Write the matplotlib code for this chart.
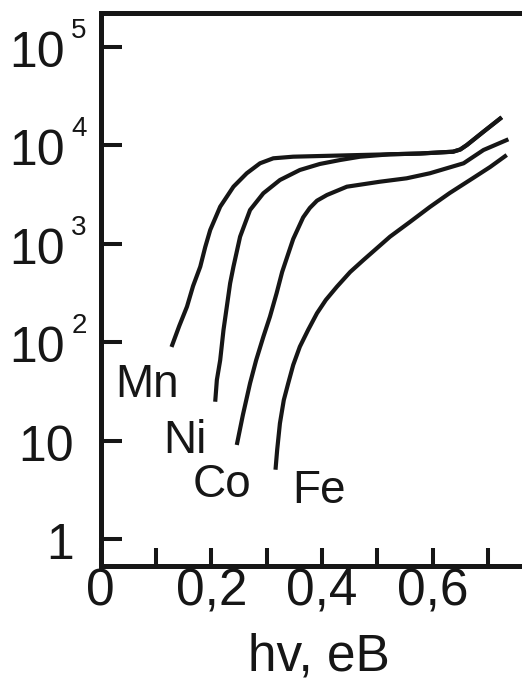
import matplotlib
matplotlib.use("Agg")
import matplotlib.pyplot as plt
import matplotlib.transforms as mtransforms

plt.rcParams['font.family'] = ['Liberation Sans', 'DejaVu Sans']

# curves: photon energy (eV) vs absorption (log)
mn_x = [0.128, 0.142, 0.156, 0.167, 0.180, 0.189, 0.198, 0.216, 0.240, 0.264, 0.288, 0.312, 0.348,
        0.469, 0.523, 0.577, 0.637, 0.650, 0.662, 0.692, 0.725]
mn_y = [90, 147, 231, 374, 588, 931, 1386, 2389, 3813, 5217, 6590, 7405, 7689,
        7998, 8132, 8279, 8640, 9097, 10106, 13792, 19311]

ni_x = [0.207, 0.210, 0.216, 0.222, 0.228, 0.234, 0.240, 0.252, 0.270, 0.294, 0.324, 0.360, 0.396,
        0.433, 0.469, 0.523, 0.577, 0.637, 0.650, 0.662, 0.692, 0.725]
ni_y = [25, 41.6, 66, 134, 231, 399, 588, 1185, 2211, 3268, 4458, 5633, 6482,
        7118, 7689, 8132, 8279, 8640, 9097, 10106, 13792, 19311]

co_x = [0.246, 0.257, 0.270, 0.281, 0.294, 0.306, 0.318, 0.328, 0.339, 0.348, 0.366, 0.378,
        0.391, 0.409, 0.445, 0.505, 0.553, 0.595, 0.656, 0.692, 0.737]
co_y = [9.1, 18.3, 38.5, 66, 114, 183, 316, 519, 794, 1122, 1862, 2317,
        2750, 3141, 3813, 4285, 4639, 5217, 6590, 8990, 11545]

fe_x = [0.316, 0.319, 0.324, 0.331, 0.339, 0.348, 0.360, 0.375, 0.391, 0.407, 0.427, 0.451,
        0.475, 0.523, 0.559, 0.595, 0.631, 0.674, 0.704, 0.734]
fe_y = [5.1, 8.1, 15.1, 26, 38.5, 59, 90.5, 134, 198, 270, 368, 519,
        687, 1185, 1671, 2372, 3290, 4700, 6043, 7998]

y_ticks = [1, 10, 100, 1000, 10000, 100000]
y_base = ['1', '10', '10', '10', '10', '10']
y_exp = ['', '', '2', '3', '4', '5']

x_ticks = [0, 0.1, 0.2, 0.3, 0.4, 0.5, 0.6, 0.7]
x_labels = ['0', '', '0,2', '', '0,4', '', '0,6', '']

ink = '#161616'

fig = plt.figure(figsize=(5.22, 6.85), dpi=100)
ax = fig.add_axes([0.1929, 0.1737, 1 - 0.1929, 0.8067])

for xs, ys in [(mn_x, mn_y), (ni_x, ni_y), (co_x, co_y), (fe_x, fe_y)]:
    ax.plot(xs, ys, color=ink, lw=3.0, solid_capstyle='butt', solid_joinstyle='round')

ax.set_yscale('log')
ax.set_xlim(0, 0.7616)
ax.set_ylim(0.537, 2.19e5)

for s in ['left', 'top', 'bottom']:
    ax.spines[s].set_linewidth(3.6)
    ax.spines[s].set_color(ink)
ax.spines['right'].set_visible(False)

ax.set_xticks(x_ticks)
ax.set_xticklabels(x_labels)
ax.tick_params(axis='x', direction='in', length=13, width=2.9, color=ink,
               labelsize=37, labelcolor=ink, pad=1)

ax.set_yticks(y_ticks)
ax.set_yticklabels([])
ax.yaxis.set_minor_locator(matplotlib.ticker.NullLocator())
ax.tick_params(axis='y', direction='in', length=15, width=2.9, color=ink)

# y labels: "10" with small raised exponent, drawn as text next to each tick
ytr = ax.get_yaxis_transform()
for v, b, e in zip(y_ticks, y_base, y_exp):
    if e:
        off = mtransforms.ScaledTranslation(-0.36, -0.20, fig.dpi_scale_trans)
        ax.text(0, v, b, transform=ytr + off, ha='right', va='baseline',
                fontsize=36, color=ink)
        off2 = mtransforms.ScaledTranslation(-0.295, 0.09, fig.dpi_scale_trans)
        ax.text(0, v, e, transform=ytr + off2, ha='left', va='baseline',
                fontsize=20, color=ink)
    else:
        off = mtransforms.ScaledTranslation(-0.27, -0.20, fig.dpi_scale_trans)
        ax.text(0, v, b, transform=ytr + off, ha='right', va='baseline',
                fontsize=36, color=ink)

ax.set_xlabel('hv, eB', fontsize=37, color=ink)
ax.xaxis.set_label_coords(0.519, -0.12)

for name, x, y in [('Mn', 0.026, 27.9), ('Ni', 0.113, 7.55), ('Co', 0.167, 2.70), ('Fe', 0.346, 2.34)]:
    ax.text(x, y, name, fontsize=33, color=ink, ha='left', va='baseline')

fig.savefig('out.png', dpi=100)
